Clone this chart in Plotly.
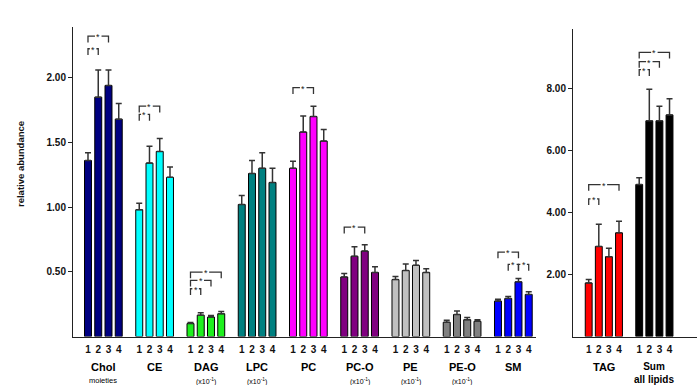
import plotly.graph_objects as go

# ---- data -------------------------------------------------------------
bar_labels = ["1", "2", "3", "4"]

left_groups = ["Chol", "CE", "DAG", "LPC", "PC", "PC-O", "PE", "PE-O", "SM"]
left_sub = ["moieties", "", "(x10<sup>-1</sup>)", "(x10<sup>-1</sup>)", "",
            "(x10<sup>-1</sup>)", "(x10<sup>-1</sup>)", "(x10<sup>-1</sup>)", ""]
left_colors = ["#000080", "#00FFFF", "#1EF01E", "#008080", "#FF00FF",
               "#800080", "#C0C0C0", "#808080", "#0000FF"]
left_means = [
    [1.36, 1.85, 1.94, 1.68],
    [0.98, 1.34, 1.43, 1.23],
    [0.100, 0.165, 0.150, 0.176],
    [1.02, 1.26, 1.30, 1.19],
    [1.30, 1.58, 1.70, 1.51],
    [0.46, 0.62, 0.66, 0.495],
    [0.44, 0.51, 0.55, 0.495],
    [0.110, 0.170, 0.130, 0.117],
    [0.274, 0.294, 0.423, 0.325],
]
left_errs = [
    [0.06, 0.21, 0.12, 0.12],
    [0.05, 0.13, 0.10, 0.08],
    [0.008, 0.019, 0.013, 0.018],
    [0.07, 0.10, 0.12, 0.11],
    [0.055, 0.125, 0.08, 0.09],
    [0.026, 0.073, 0.050, 0.044],
    [0.023, 0.050, 0.037, 0.029],
    [0.015, 0.028, 0.016, 0.012],
    [0.013, 0.016, 0.026, 0.021],
]

right_groups = ["TAG", "Sum<br>all lipids"]
right_sub = ["", ""]
right_colors = ["#FF0000", "#000000"]
right_means = [
    [1.73, 2.91, 2.58, 3.35],
    [4.91, 6.97, 6.97, 7.16],
]
right_errs = [
    [0.11, 0.72, 0.27, 0.37],
    [0.22, 1.02, 0.47, 0.52],
]

left_ticks = [0.5, 1.0, 1.5, 2.0]
right_ticks = [2, 4, 6, 8]

# significance brackets: (group index, bar a, bar b, height)
left_brackets = [
    (0, 1, 2, 2.224), (0, 1, 3, 2.321),
    (1, 1, 2, 1.716), (1, 1, 3, 1.780),
    (2, 1, 2, 0.369), (2, 1, 3, 0.434), (2, 1, 4, 0.498),
    (4, 1, 3, 1.923),
    (5, 1, 3, 0.845),
    (8, 1, 3, 0.652), (8, 2, 3, 0.557), (8, 3, 4, 0.557),
]
right_brackets = [
    (0, 1, 2, 4.446), (0, 1, 4, 4.908),
    (1, 1, 2, 8.62), (1, 1, 3, 8.88), (1, 1, 4, 9.18),
]

# ---- layout helpers ---------------------------------------------------
W, H = 697, 385
FONT = "Arial, Liberation Sans, sans-serif"
BAR_W = 0.68
GROUP_STEP = 5


def bar_x(g, j):
    return g * GROUP_STEP + j


def py(px):
    return 1 - px / H


fig = go.Figure()


def add_panel(groups, colors, means, errs, xa, ya):
    for g, name in enumerate(groups):
        fig.add_trace(go.Bar(
            x=[bar_x(g, j) for j in range(4)],
            y=means[g],
            width=BAR_W,
            marker=dict(color=colors[g], line=dict(color="#000000", width=1)),
            error_y=dict(type="data", array=errs[g],
                         arrayminus=[0] * 4, symmetric=False,
                         color="#333333", thickness=1.5, width=3),
            xaxis=xa, yaxis=ya, name=name.replace("<br>", " "),
            showlegend=False, hoverinfo="skip",
        ))


add_panel(left_groups, left_colors, left_means, left_errs, "x", "y")
add_panel(right_groups, right_colors, right_means, right_errs, "x2", "y2")

shapes = []
annotations = []


def add_brackets(brackets, xref, yref, drop, gap):
    for g, a, b, lev in brackets:
        x0, x1 = bar_x(g, a - 1), bar_x(g, b - 1)
        xm = (x0 + x1) / 2
        line = dict(color="#333333", width=1.3)
        path = (f"M {x0} {lev - drop} L {x0} {lev} L {xm - gap} {lev} "
                f"M {xm + gap} {lev} L {x1} {lev} L {x1} {lev - drop}")
        shapes.append(dict(type="path", path=path, xref=xref, yref=yref,
                           line=line, layer="above"))
        annotations.append(dict(x=xm, y=lev, xref=xref, yref=yref, text="*",
                                showarrow=False, yanchor="middle", yshift=-1,
                                font=dict(family=FONT, size=9, color="#222222")))


add_brackets(left_brackets, "x", "y", 0.048, 0.32)
add_brackets(right_brackets, "x2", "y2", 0.20, 0.32)


def label(x, ypx, xref, text, size):
    annotations.append(dict(x=x, y=py(ypx), xref=xref, yref="paper",
                            text=text, showarrow=False,
                            xanchor="center", yanchor="middle",
                            font=dict(family=FONT, size=size, color="#000000")))


def add_group_labels(groups, subs, xref):
    for g, name in enumerate(groups):
        xc = bar_x(g, 1.5)
        if "<br>" in name:
            label(xc, 373, xref, "<br>".join(f"<b>{p}</b>" for p in name.split("<br>")), 10)
            continue
        label(xc, 367, xref, f"<b>{name}</b>", 11)
        if subs[g]:
            size = 7.5 if subs[g] == "moieties" else 7
            label(xc, 380 if subs[g] == "moieties" else 381, xref, subs[g], size)


add_group_labels(left_groups, left_sub, "x")
add_group_labels(right_groups, right_sub, "x2")

annotations.append(dict(x=21 / W, y=py(164), xref="paper", yref="paper",
                        text="<b>relative abundance</b>", textangle=-90,
                        showarrow=False, xanchor="center", yanchor="middle",
                        font=dict(family=FONT, size=9.5, color="#111111")))

tick_font = dict(family=FONT, size=10, color="#111111")


def xaxis_cfg(ngroups, domain, rng, anchor):
    vals = [bar_x(g, j) for g in range(ngroups) for j in range(4)]
    return dict(domain=domain, range=rng, tickvals=vals,
                ticktext=[f"<b>{bar_labels[j]}</b>" for g in range(ngroups) for j in range(4)],
                ticks="", ticklabelstandoff=3,
                showline=True, linecolor="#222222", linewidth=1,
                showgrid=False, zeroline=False, tickfont=tick_font,
                anchor=anchor, fixedrange=True)


def yaxis_cfg(domain, rng, ticks, anchor):
    return dict(domain=domain, range=rng, tickvals=ticks,
                ticktext=[f"<b>{t:.2f}</b>" for t in ticks],
                ticks="outside", ticklen=4, tickcolor="#222222", tickwidth=1,
                showline=True, linecolor="#222222", linewidth=1,
                showgrid=False, zeroline=False, tickfont=tick_font,
                anchor=anchor, fixedrange=True)


fig.update_layout(
    width=W, height=H,
    margin=dict(l=0, r=0, t=0, b=0),
    paper_bgcolor="white", plot_bgcolor="rgba(0,0,0,0)",
    barmode="overlay",
    xaxis=xaxis_cfg(len(left_groups), [73 / W, 536 / W], [-1.463, 43.71], "y"),
    yaxis=yaxis_cfg([py(336.5), py(27)], [0, 2.392], left_ticks, "x"),
    xaxis2=xaxis_cfg(len(right_groups), [573 / W, 1.0], [-1.554, 10.72], "y2"),
    yaxis2=yaxis_cfg([py(336.5), py(29)], [0, 9.935], right_ticks, "x2"),
    shapes=shapes,
    annotations=annotations,
)

fig.write_html("out.html")
